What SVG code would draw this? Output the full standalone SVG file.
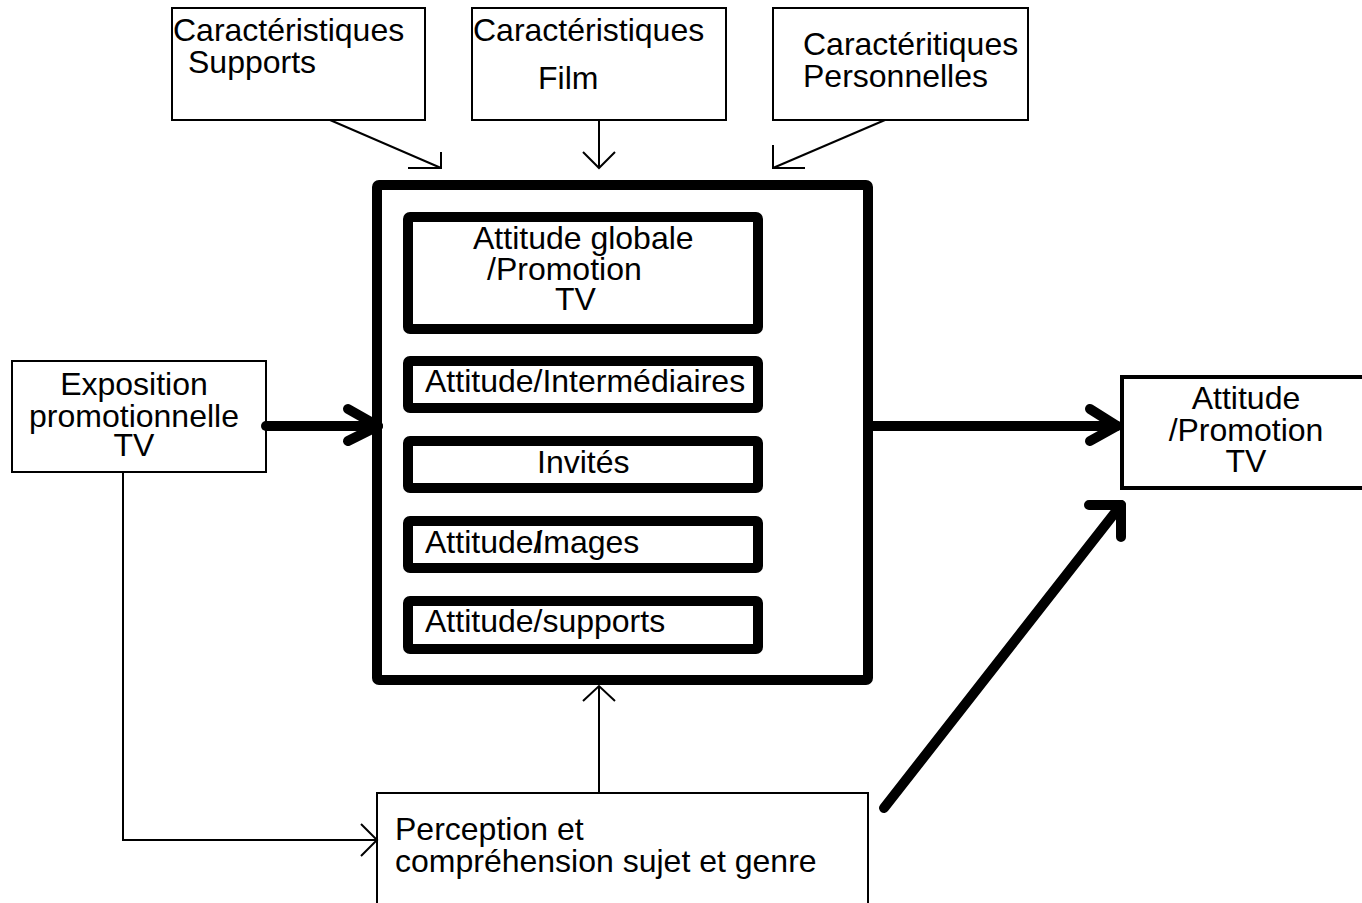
<svg xmlns="http://www.w3.org/2000/svg" width="1362" height="903" viewBox="0 0 1362 903">
  <style>
    text { font-family: "Liberation Sans", Arial, sans-serif; font-size: 32px; fill: #000; }
    .thin { fill: #fff; stroke: #000; stroke-width: 2; }
    .bold { fill: #fff; stroke: #000; stroke-width: 10; stroke-linejoin: round; }
    .mid { fill: #fff; stroke: #000; stroke-width: 4; }
    .ln { fill: none; stroke: #000; stroke-width: 2; }
    .heavy { fill: none; stroke: #000; stroke-width: 10; stroke-linecap: round; stroke-linejoin: round; }
    .c { text-anchor: middle; }
  </style>
  <rect width="1362" height="903" fill="#fff"/>

  <!-- top input boxes -->
  <g id="supports">
    <rect class="thin" x="172" y="8" width="253" height="112"/>
    <text x="173" y="41">Caractéristiques<tspan x="188" y="73">Supports</tspan></text>
  </g>
  <g id="film">
    <rect class="thin" x="472" y="8" width="254" height="112"/>
    <text x="473" y="41">Caractéristiques<tspan x="538" y="89">Film</tspan></text>
  </g>
  <g id="personnelles">
    <rect class="thin" x="773" y="8" width="255" height="112"/>
    <text x="803" y="55">Caractéritiques<tspan x="803" y="87">Personnelles</tspan></text>
  </g>

  <!-- central attitude block -->
  <g id="attitudes">
    <rect class="bold" x="377" y="185" width="491" height="495" rx="2"/>
    <g id="globale">
      <rect class="bold" x="408" y="217" width="350" height="112" rx="2"/>
      <text x="473" y="249">Attitude globale<tspan x="487" y="280">/Promotion</tspan><tspan x="555" y="310">TV</tspan></text>
    </g>
    <g id="intermediaires">
      <rect class="bold" x="408" y="361" width="350" height="47" rx="2"/>
      <text x="425" y="392">Attitude/Intermédiaires</text>
    </g>
    <g id="invites">
      <rect class="bold" x="408" y="441" width="350" height="47" rx="2"/>
      <text x="537" y="473">Invités</text>
    </g>
    <g id="images">
      <rect class="bold" x="408" y="521" width="350" height="47" rx="2"/>
      <text x="425" y="553">Attitude/<tspan dx="-8">Images</tspan></text>
    </g>
    <g id="att-supports">
      <rect class="bold" x="408" y="601" width="350" height="48" rx="2"/>
      <text x="425" y="632">Attitude/supports</text>
    </g>
  </g>

  <!-- left input -->
  <g id="exposition">
    <rect class="thin" x="12" y="361" width="254" height="111"/>
    <text class="c" x="134" y="395">Exposition<tspan x="134" y="427">promotionnelle</tspan><tspan x="134" y="456">TV</tspan></text>
  </g>

  <!-- perception box (runs off the bottom edge) -->
  <g id="perception">
    <rect class="thin" x="377" y="793" width="491" height="130"/>
    <text x="395" y="840">Perception et<tspan x="395" y="872">compréhension sujet et genre</tspan></text>
  </g>

  <!-- outcome box (runs off the right edge) -->
  <g id="resultat">
    <rect class="mid" x="1122" y="377" width="260" height="111"/>
    <text class="c" x="1246" y="409">Attitude<tspan x="1246" y="441">/Promotion</tspan><tspan x="1246" y="472">TV</tspan></text>
  </g>

  <!-- connectors -->
  <g id="connectors">
    <!-- supports -> block -->
    <line class="ln" x1="330" y1="120" x2="441" y2="168"/>
    <polyline class="ln" points="441,152 441,168 408,168"/>
    <!-- film -> block -->
    <line class="ln" x1="599" y1="120" x2="599" y2="168"/>
    <polyline class="ln" points="583,152 599,168 615,152"/>
    <!-- personnelles -> block -->
    <line class="ln" x1="885" y1="120" x2="773" y2="168"/>
    <polyline class="ln" points="773,145 773,168 805,168"/>

    <!-- exposition -> block -->
    <line class="heavy" x1="266" y1="426" x2="378" y2="426"/>
    <polyline class="heavy" points="348,409 378,426 348,441"/>

    <!-- block -> outcome -->
    <line class="heavy" x1="868" y1="426" x2="1117" y2="426"/>
    <polyline class="heavy" points="1090,409 1117,426 1090,441"/>

    <!-- exposition -> perception -->
    <polyline class="ln" points="123,472 123,840 377,840"/>
    <polyline class="ln" points="361,824 377,840 361,856"/>

    <!-- perception -> block -->
    <line class="ln" x1="599" y1="793" x2="599" y2="687"/>
    <polyline class="ln" points="583,701 599,686 615,701"/>

    <!-- perception -> outcome -->
    <line class="heavy" x1="884" y1="808" x2="1121" y2="505"/>
    <polyline class="heavy" points="1089,505 1121,505 1121,537"/>
  </g>
</svg>
